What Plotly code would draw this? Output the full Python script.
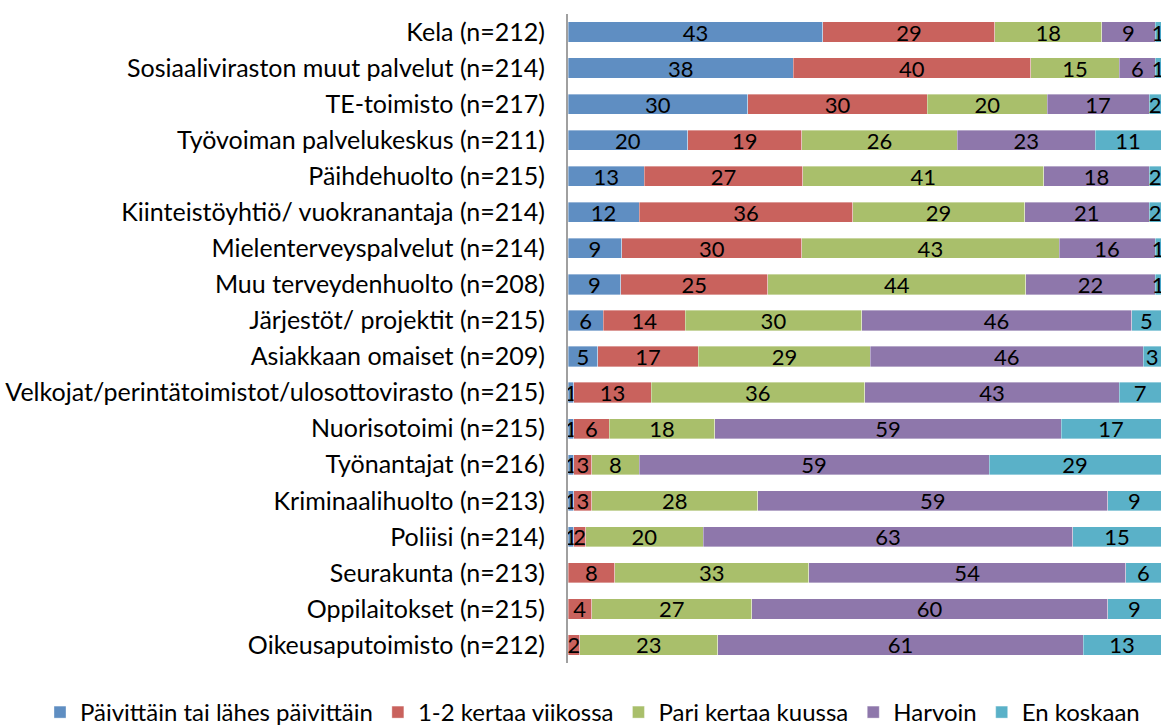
import plotly.graph_objects as go

categories = [
    "Kela (n=212)",
    "Sosiaaliviraston muut palvelut (n=214)",
    "TE-toimisto (n=217)",
    "Työvoiman palvelukeskus (n=211)",
    "Päihdehuolto (n=215)",
    "Kiinteistöyhtiö/ vuokranantaja (n=214)",
    "Mielenterveyspalvelut (n=214)",
    "Muu terveydenhuolto (n=208)",
    "Järjestöt/ projektit (n=215)",
    "Asiakkaan omaiset (n=209)",
    "Velkojat/perintätoimistot/ulosottovirasto (n=215)",
    "Nuorisotoimi (n=215)",
    "Työnantajat (n=216)",
    "Kriminaalihuolto (n=213)",
    "Poliisi (n=214)",
    "Seurakunta (n=213)",
    "Oppilaitokset (n=215)",
    "Oikeusaputoimisto (n=212)",
]

paivittain = [43, 38, 30, 20, 13, 12, 9, 9, 6, 5, 1, 1, 1, 1, 1, 0, 0, 0]
viikossa = [29, 40, 30, 19, 27, 36, 30, 25, 14, 17, 13, 6, 3, 3, 2, 8, 4, 2]
kuussa = [18, 15, 20, 26, 41, 29, 43, 44, 30, 29, 36, 18, 8, 28, 20, 33, 27, 23]
harvoin = [9, 6, 17, 23, 18, 21, 16, 22, 46, 46, 43, 59, 59, 59, 63, 54, 60, 61]
en_koskaan = [1, 1, 2, 11, 2, 2, 1, 1, 5, 3, 7, 17, 29, 9, 15, 6, 9, 13]

series_names = [
    "Päivittäin tai lähes päivittäin",
    "1-2 kertaa viikossa",
    "Pari kertaa kuussa",
    "Harvoin",
    "En koskaan",
]
series_values = [paivittain, viikossa, kuussa, harvoin, en_koskaan]
colors = ["#5F8EC2", "#C9625D", "#A9BF6B", "#8E77AB", "#5AB1C8"]

FONT = "Lato, Carlito, Calibri, sans-serif"

W, H = 1166, 726
ML, MR, MT, MB = 568, 5, 14, 63

fig = go.Figure()
for name, vals, col in zip(series_names, series_values, colors):
    fig.add_trace(go.Bar(
        y=categories,
        x=vals,
        name=name,
        orientation="h",
        marker=dict(color=col, line=dict(color="rgba(255,255,255,0.6)", width=0.6)),
        text=[str(v) if v > 0 else "" for v in vals],
        textposition="inside",
        insidetextanchor="middle",
        textangle=0,
        textfont=dict(color="black", size=22, family=FONT),
        constraintext="none",
        hoverinfo="skip",
    ))

plot_w = W - ML - MR
plot_h = H - MT - MB
fig.update_layout(
    barmode="stack",
    barnorm="percent",
    bargap=0.44,
    width=W,
    height=H,
    margin=dict(l=ML, r=MR, t=MT, b=MB, autoexpand=False),
    plot_bgcolor="white",
    paper_bgcolor="white",
    font=dict(family=FONT, size=24, color="black"),
    uniformtext=dict(minsize=22, mode="show"),
    showlegend=True,
    legend=dict(
        orientation="h",
        xref="paper", yref="paper",
        x=(40 - ML) / plot_w, xanchor="left",
        y=-(690 - (H - MB)) / plot_h, yanchor="top",
        font=dict(size=24, family=FONT, color="black"),
        traceorder="normal",
        itemwidth=30,
        bgcolor="rgba(0,0,0,0)",
    ),
)
fig.update_xaxes(range=[0, 100], visible=False, showgrid=False, zeroline=False)
fig.update_yaxes(
    autorange="reversed",
    showline=True,
    linecolor="#A0A0A0",
    linewidth=2,
    ticks="",
    ticklabelstandoff=16,
    tickfont=dict(size=25, family=FONT, color="black"),
    showgrid=False,
)

fig.write_html(
    "out.html",
    config={"displayModeBar": False},
    post_script="document.body.style.margin='0';",
)
